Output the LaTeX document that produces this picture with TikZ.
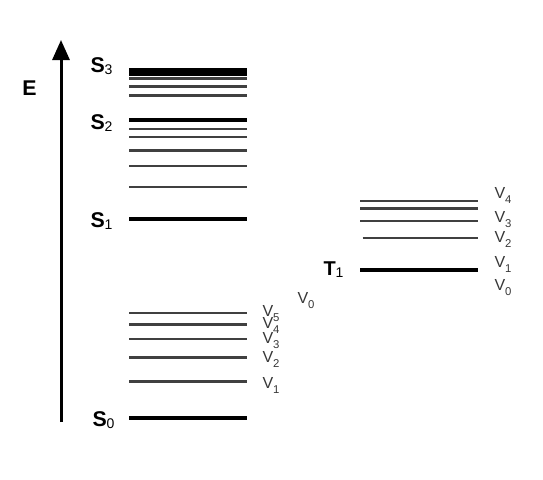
\documentclass[tikz,border=0pt]{standalone}
\usepackage{fontspec}
\setmainfont{Liberation Sans}
\usepackage{tikz}
\usetikzlibrary{arrows.meta}
\definecolor{vibgray}{RGB}{64,64,64}
\definecolor{labgray}{RGB}{55,55,55}
\tikzset{every picture/.style={line width=0.75pt}}
\tikzset{
  elevel/.style={line width=3pt,black},
  vlevel/.style={line width=2pt,vibgray},
  statelab/.style={anchor=base west,inner sep=0pt,font=\fontsize{16}{16}\selectfont\bfseries},
  vlab/.style={anchor=base west,inner sep=0pt,text=labgray,font=\fontsize{12}{12}\selectfont},
  energyarrow/.style={line width=2.25pt,-{Triangle[length=15pt,width=12.75pt]}}
}
\newcommand{\statename}[2]{#1\raisebox{-0.12em}{\fontsize{10.5}{10.5}\selectfont\mdseries #2}}
\newcommand{\vibname}[1]{V\raisebox{-0.33em}{\fontsize{8.5}{8.5}\selectfont #1}}

\begin{document}
\begin{tikzpicture}[x=0.75pt,y=0.75pt,yscale=-1,xscale=1]
		\useasboundingbox (0,0) rectangle (543,479);
		
		%Energy axis
		\coordinate (ebase) at (61,422);
		\coordinate (etop) at (61,40);
		\draw [energyarrow] (ebase) -- (etop);
		% Text Node
		\node [statelab] (elab) at (22,95) {E};
		
		%Singlet levels
		\foreach \y in {70,73.5,120.3,218.5,418.3}
			\draw [elevel] (129,\y) -- (247,\y);
		\foreach \y in {78.7,86.3,95.3,129,137,150.7,166,187,313,324.3,339,357.7,381.7}
			\draw [vlevel] (129,\y) -- (247,\y);
		
		%Triplet levels
		\draw [elevel] (360,269.7) -- (478,269.7);
		\foreach \y in {201,208.7,221}
			\draw [vlevel] (360,\y) -- (478,\y);
		\draw [vlevel] (362.7,238) -- (478,238);
		
		% Text Node
		\node [statelab] (s3) at (90,72) {\statename{S}{3}};
		\node [statelab] (s2) at (90,129) {\statename{S}{2}};
		\node [statelab] (s1) at (90,227) {\statename{S}{1}};
		\node [statelab] (s0) at (92,426) {\statename{S}{0}};
		\node [statelab,font=\fontsize{15}{15}\selectfont\bfseries] (t1) at (323,275) {\statename{T}{1}};
		
		% Text Node
		\node [vlab] (sv5) at (262,316) {\vibname{5}};
		\node [vlab] (sv4) at (262,328) {\vibname{4}};
		\node [vlab] (sv3) at (262,343) {\vibname{3}};
		\node [vlab] (sv2) at (262,362) {\vibname{2}};
		\node [vlab] (sv1) at (262,388) {\vibname{1}};
		\node [vlab] (sv0) at (297,303) {\vibname{0}};
		
		% Text Node
		\node [vlab] (tv4) at (494,198) {\vibname{4}};
		\node [vlab] (tv3) at (494,222) {\vibname{3}};
		\node [vlab] (tv2) at (494,242) {\vibname{2}};
		\node [vlab] (tv1) at (494,267) {\vibname{1}};
		\node [vlab] (tv0) at (494,290) {\vibname{0}};
		
\end{tikzpicture}
\end{document}
